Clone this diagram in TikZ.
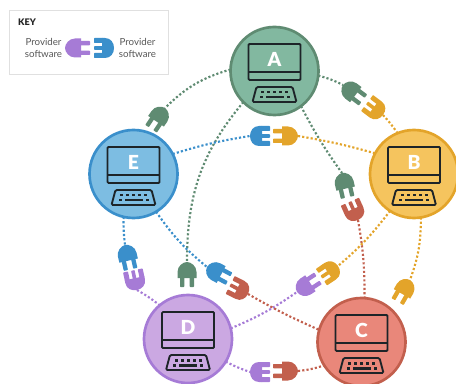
\documentclass[tikz,border=0pt]{standalone}
\usepackage{fontspec}
\setmainfont{Lato}[BoldFont=Lato Black]
\definecolor{gA}{HTML}{82B8A0}\definecolor{gB}{HTML}{5F8B72}
\definecolor{oA}{HTML}{F5C45E}\definecolor{oB}{HTML}{E3A42A}
\definecolor{rA}{HTML}{E9877A}\definecolor{rB}{HTML}{C25F4D}
\definecolor{pA}{HTML}{CBA8E2}\definecolor{pB}{HTML}{A67BD6}
\definecolor{bA}{HTML}{7DBDE2}\definecolor{bB}{HTML}{3A8FCB}
\definecolor{ink}{HTML}{1D2428}
\tikzset{
 x=0.75pt,y=-0.75pt,
 hostnode/.style n args={2}{circle,draw=#2,fill=#1,line width=2pt,minimum size=66pt,inner sep=0pt,outer sep=0pt},
 letternode/.style={text=white,font=\bfseries\fontsize{14.5}{15}\selectfont,inner sep=0pt},
 conn/.style={draw=#1,line width=1.6pt,dash pattern=on 1.6pt off 1.6pt},
 keytext/.style={text=black!65,font=\fontsize{7.3}{8.4}\selectfont,align=center,inner sep=0pt},
 computer/.pic={
  \draw[ink,line width=1.4pt,rounded corners=0.8pt] (-26,-27) rectangle (26,9);
  \draw[ink,line width=1.4pt] (-26,1) -- (26,1);
  \draw[ink,line width=1.4pt,rounded corners=1pt] (-18,16) -- (18,16) -- (22,31) -- (-22,31) -- cycle;
  \foreach \kx in {-12,-6,0,6,12}{\fill[ink] (\kx-1.5,20) rectangle (\kx+1.5,22.5);}
  \fill[ink] (-15,25) rectangle (-12,27.5);
  \fill[ink] (-9,25) rectangle (9,27.5);
  \fill[ink] (12,25) rectangle (15,27.5);
 },
 maleplug/.pic={
  \fill[#1] (16,-9.5) -- (10,-9.5) .. controls (4,-9.5) and (0,-4) .. (0,0) .. controls (0,4) and (4,9.5) .. (10,9.5) -- (16,9.5) -- cycle;
  \fill[#1,rounded corners=0.5pt] (15,-7) rectangle (25,-2.7);
  \fill[#1,rounded corners=0.5pt] (15,2.7) rectangle (25,7);
 },
 femaleplug/.pic={
  \fill[#1] (12,-10) -- (9,-10) .. controls (3,-10) and (0,-5) .. (0,0) .. controls (0,5) and (3,10) .. (9,10) -- (12,10) -- cycle;
  \fill[#1,rounded corners=0.5pt] (11,-10) rectangle (20,-5);
  \fill[#1,rounded corners=0.5pt] (11,-1.8) rectangle (20,1.8);
  \fill[#1,rounded corners=0.5pt] (11,5) rectangle (20,10);
 },
}
\begin{document}
\begin{tikzpicture}
\useasboundingbox (0,0) rectangle (456,384);
% key
\node[draw=black!12,fill=white,line width=0.8pt,minimum width=119pt,minimum height=47.5pt,inner sep=0pt] (keybox) at (89,42.5) {};
\node[font=\bfseries\fontsize{6.8}{8}\selectfont,text=black!85,inner sep=0pt] (keytitle) at (27,22) {KEY};
\node[keytext] (keyleft) at (43.5,48) {Provider\\software};
\node[keytext] (keyright) at (137.5,48) {Provider\\software};
\pic at (65,48) {maleplug=pB};
\pic at (114,48) [rotate=180] {femaleplug=bB};
% hosts
\node[hostnode={gA}{gB}] (A) at (274.5,71) {};
\node[hostnode={oA}{oB}] (B) at (414,174) {};
\node[hostnode={rA}{rB}] (C) at (361.5,342) {};
\node[hostnode={pA}{pB}] (D) at (188,339) {};
\node[hostnode={bA}{bB}] (E) at (133.5,174) {};
\foreach \h in {A,B,C,D,E}{\pic at (\h) {computer};}
\node[letternode] (LA) at (274.5,59) {A};
\node[letternode] (LB) at (414,162) {B};
\node[letternode] (LC) at (361.5,330) {C};
\node[letternode] (LD) at (188,327) {D};
\node[letternode] (LE) at (133.5,162) {E};
% plug back ends
\coordinate (ab1) at (343,85);
\coordinate (ab2) at (383,115);
\coordinate (ae1) at (165,108);
\coordinate (ac1) at (342,173);
\coordinate (ac2) at (358,220);
\coordinate (ad1) at (187,262);
\coordinate (be1) at (298,136);
\coordinate (be2) at (250,136);
\coordinate (bc1) at (410,280);
\coordinate (bd1) at (338,266);
\coordinate (bd2) at (297,292);
\coordinate (cd1) at (298,371);
\coordinate (cd2) at (250,372);
\coordinate (ce1) at (248,294);
\coordinate (ce2) at (207,267);
\coordinate (de1) at (137,290);
\coordinate (de2) at (125,245);
% connectors
\draw[conn=gB] (A.-6) to[bend left=6] (ab1);
\draw[conn=oB] (ab2) to[bend left=4] (B.112);
\draw[conn=gB] (A.178) to[bend right=14] (ae1);
\draw[conn=gB] (A.-53) to[bend right=4] (ac1);
\draw[conn=rB] (ac2) to[out=-80,in=90] (C.86);
\draw[conn=gB] (A.-135) to[out=-130,in=90] (ad1);
\draw[conn=oB] (be1) to[bend left=3] (B.152);
\draw[conn=bB] (E.27) to[bend left=4] (be2);
\draw[conn=oB] (B.-81) to[out=-90,in=70] (bc1);
\draw[conn=oB] (B.-123) to[bend left=6] (bd1);
\draw[conn=pB] (D.14) to[bend right=6] (bd2);
\draw[conn=rB] (cd1) to[bend right=6] (C.-148);
\draw[conn=pB] (D.-31) to[bend right=4] (cd2);
\draw[conn=rB] (ce1) to[bend right=3] (C.164);
\draw[conn=bB] (E.-59) to[bend right=8] (ce2);
\draw[conn=pB] (de1) to[bend left=4] (D.130);
\draw[conn=bB] (E.-103) to[bend right=4] (de2);
% plugs
\pic at (ab1) [rotate=-37] {maleplug=gB};
\pic at (ab2) [rotate=143] {femaleplug=oB};
\pic at (ae1) [rotate=-124] {maleplug=gB};
\pic at (ac1) [rotate=-77] {maleplug=gB};
\pic at (ac2) [rotate=114] {femaleplug=rB};
\pic at (ad1) [rotate=-90] {maleplug=gB};
\pic at (be1) [rotate=180] {maleplug=oB};
\pic at (be2) {femaleplug=bB};
\pic at (bc1) [rotate=-120] {maleplug=oB};
\pic at (bd1) [rotate=-146] {femaleplug=oB};
\pic at (bd2) [rotate=33] {maleplug=pB};
\pic at (cd1) [rotate=180] {maleplug=rB};
\pic at (cd2) {femaleplug=pB};
\pic at (ce1) [rotate=153] {femaleplug=rB};
\pic at (ce2) [rotate=-28] {maleplug=bB};
\pic at (de1) [rotate=102] {femaleplug=pB};
\pic at (de2) [rotate=-77] {maleplug=bB};
\end{tikzpicture}
\end{document}
